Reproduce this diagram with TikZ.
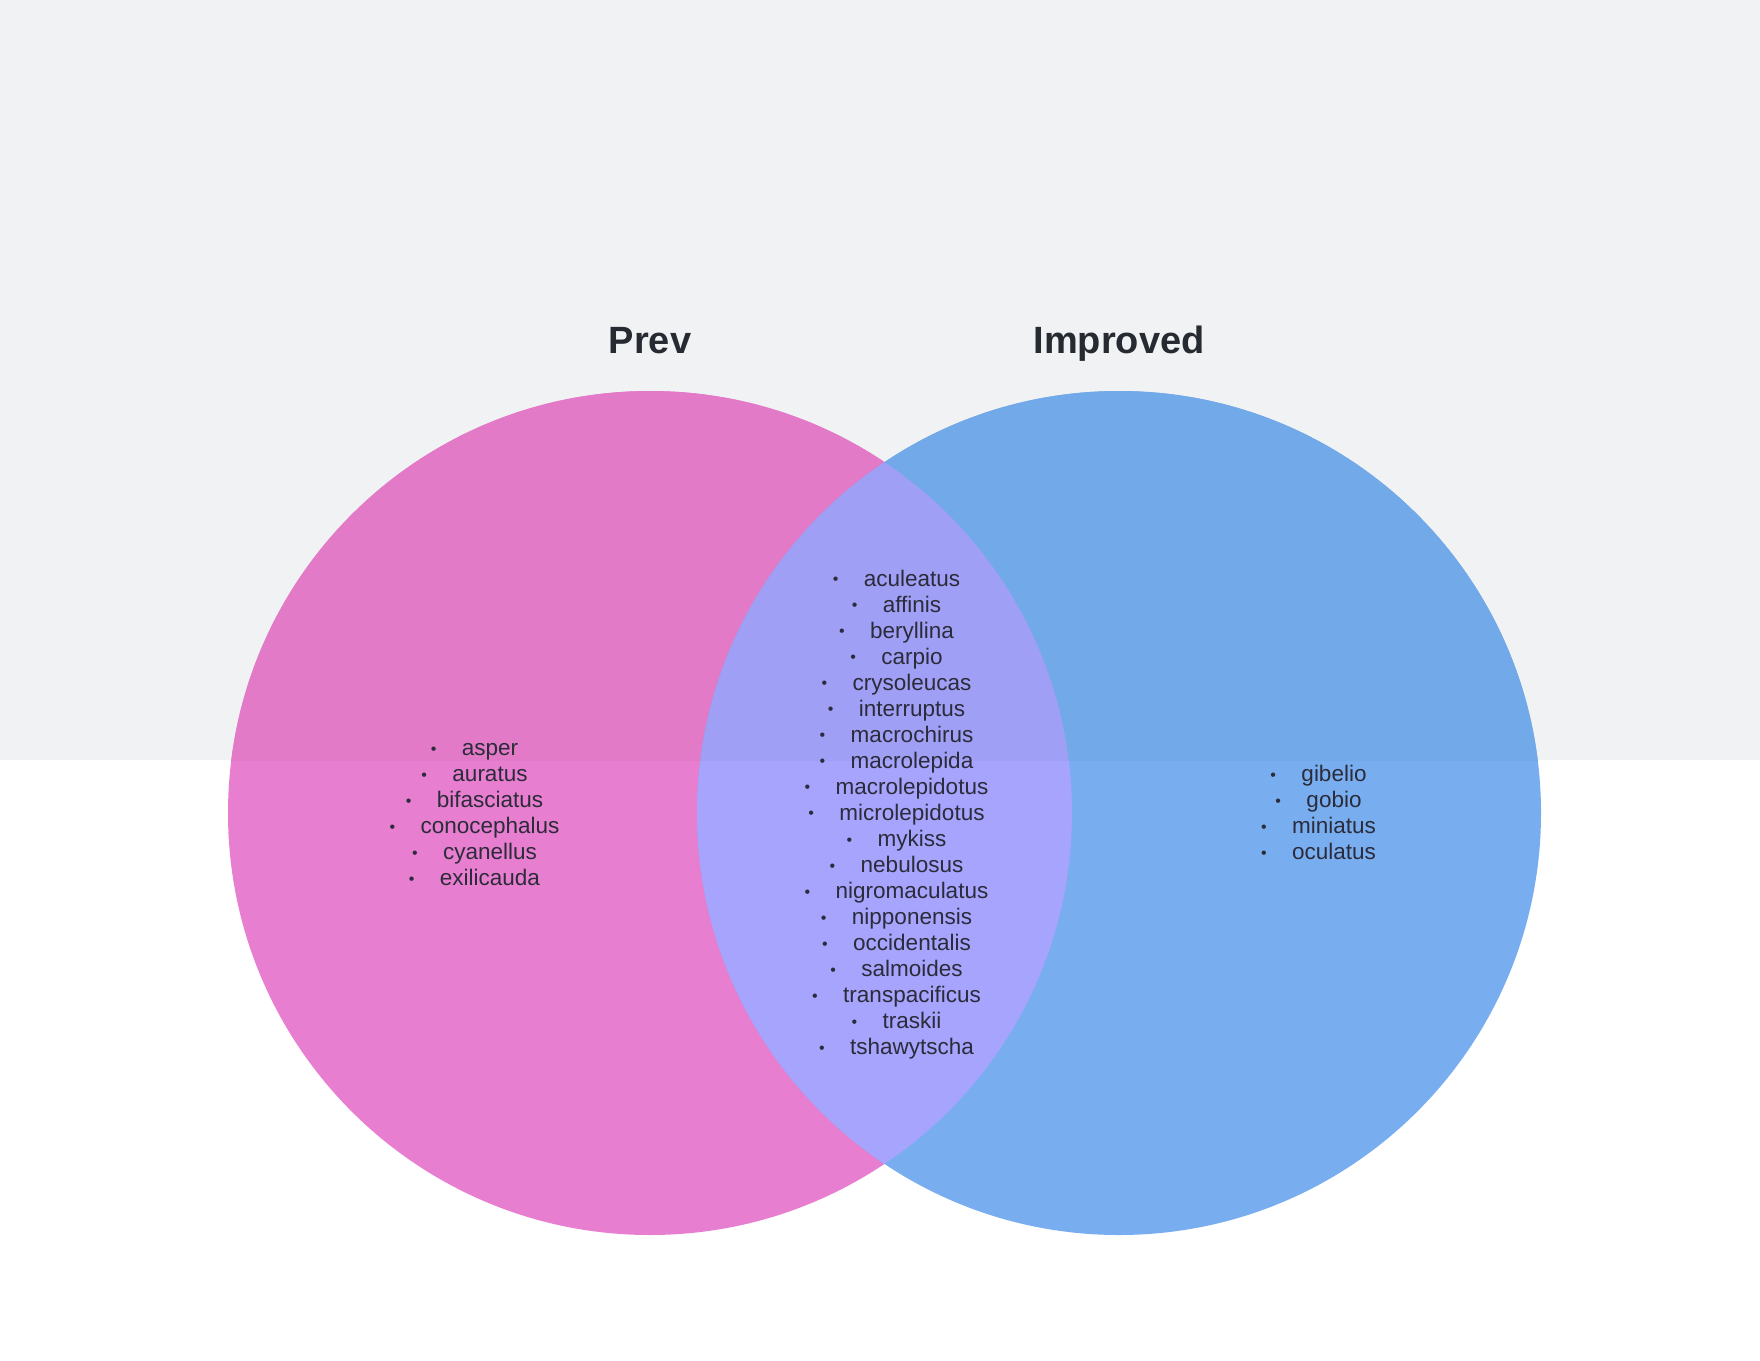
\documentclass[tikz,border=0pt]{standalone}
\usepackage{fontspec}
\setmainfont{Liberation Sans}
\definecolor{bandgray}{HTML}{F1F2F4}
\definecolor{pinkW}{HTML}{E87ED0}
\definecolor{pinkG}{HTML}{E27AC8}
\definecolor{blueW}{HTML}{78AEF0}
\definecolor{blueG}{HTML}{72A9E9}
\definecolor{interW}{HTML}{A6A4FD}
\definecolor{interG}{HTML}{A09FF6}
\definecolor{itemtext}{HTML}{2B2B3A}
\definecolor{titletext}{HTML}{262A31}
\begin{document}
\begin{tikzpicture}[x=1pt,y=-1pt,
  itm/.style={inner sep=0pt, font=\fontsize{22.5}{26}\selectfont, text=itemtext, anchor=base},
  bul/.style={inner sep=0pt, font=\fontsize{16}{20}\selectfont, text=itemtext, anchor=base east},
  ttl/.style={inner sep=0pt, font=\fontsize{38}{44}\selectfont\bfseries, text=titletext, anchor=base}]
\useasboundingbox (0,0) rectangle (1760,1360);
\fill[white] (0,0) rectangle (1760,1360);
\fill[bandgray] (0,0) rectangle (1760,760);
% circles over white
\fill[pinkW] (650,813) circle (422pt);
\fill[blueW] (1119,813) circle (422pt);
\begin{scope}
  \clip (650,813) circle (422pt);
  \fill[interW] (1119,813) circle (422pt);
\end{scope}
% circles over gray band
\begin{scope}
  \clip (0,0) rectangle (1760,760);
  \fill[pinkG] (650,813) circle (422pt);
  \fill[blueG] (1119,813) circle (422pt);
  \clip (650,813) circle (422pt);
  \fill[interG] (1119,813) circle (422pt);
\end{scope}
% titles
\node[ttl] (tprev) at (650,353) {Prev};
\node[ttl] (timp) at (1119,353) {Improved};
% left list
\foreach \n [count=\i] in {asper,auratus,bifasciatus,conocephalus,cyanellus,exilicauda}{
  \pgfmathsetmacro\yy{747.5+26*(\i-1)+8}
  \node[itm] (l\i) at (490,\yy) {\n};
  \node[bul] (lb\i) at ([xshift=-25pt,yshift=1.5pt]l\i.base west) {•};
}
% center list
\foreach \n [count=\i] in {aculeatus,affinis,beryllina,carpio,crysoleucas,interruptus,macrochirus,macrolepida,macrolepidotus,microlepidotus,mykiss,nebulosus,nigromaculatus,nipponensis,occidentalis,salmoides,transpacificus,traskii,tshawytscha}{
  \pgfmathsetmacro\yy{578+26.05*(\i-1)+8}
  \node[itm] (c\i) at (912,\yy) {\n};
  \node[bul] (cb\i) at ([xshift=-25pt,yshift=1.5pt]c\i.base west) {•};
}
% right list
\foreach \n [count=\i] in {gibelio,gobio,miniatus,oculatus}{
  \pgfmathsetmacro\yy{773.5+26*(\i-1)+8}
  \node[itm] (r\i) at (1334,\yy) {\n};
  \node[bul] (rb\i) at ([xshift=-25pt,yshift=1.5pt]r\i.base west) {•};
}
\end{tikzpicture}
\end{document}
